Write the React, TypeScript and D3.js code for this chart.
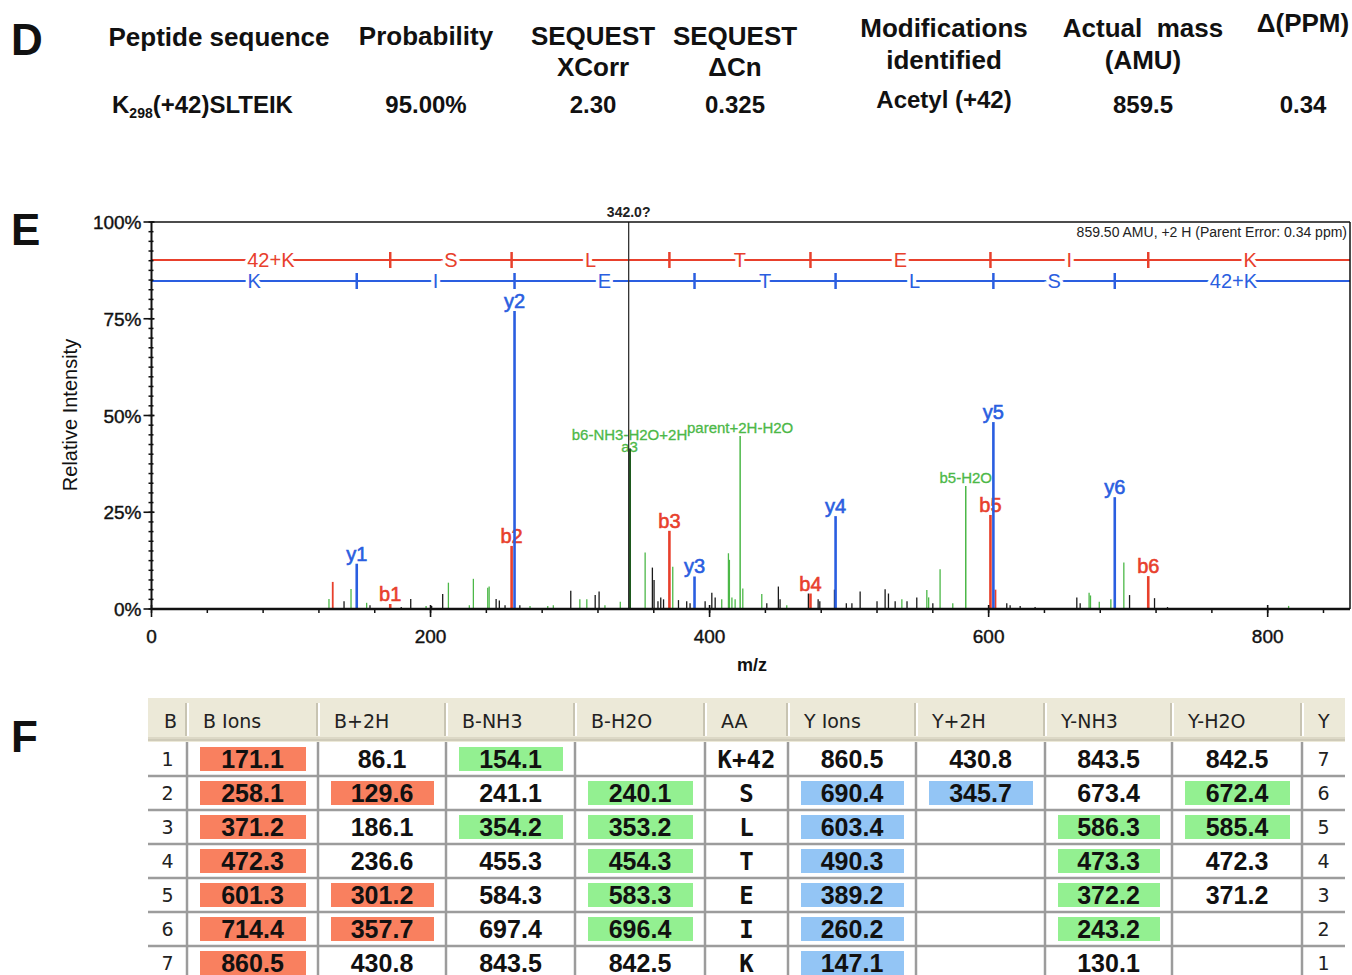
import React from "react";
import * as d3 from "d3";

const W = 1352;
const H = 975;

// ---------- Panel D data ----------
const dHeaderLines: string[][] = [
  ["Peptide sequence"],
  ["Probability"],
  ["SEQUEST", "XCorr"],
  ["SEQUEST", "ΔCn"],
  ["Modifications", "identified"],
  ["Actual  mass", "(AMU)"],
  ["Δ(PPM)"],
];
const peptideResidue = "K";
const peptideSite = "298";
const peptideRest = "(+42)SLTEIK";
const dValues = ["", "95.00%", "2.30", "0.325", "Acetyl (+42)", "859.5", "0.34"];

// ---------- Panel E data ----------
const bIonLabels = ["b1", "b2", "b3", "b4", "b5", "b6"];
const bIonMz = [171.1, 258.1, 371.2, 472.3, 601.3, 714.4];
const bIonIntensity = [1.3, 16.3, 20.2, 4.0, 24.3, 8.5];

const yIonLabels = ["y1", "y2", "y3", "y4", "y5", "y6"];
const yIonMz = [147.1, 260.2, 389.2, 490.3, 603.4, 690.4];
const yIonIntensity = [11.7, 77.0, 8.4, 24.0, 48.3, 28.9];

const lossLabels = ["parent+2H-H2O", "b5-H2O"];
const lossMz = [421.9, 583.6];
const lossIntensity = [44.7, 31.8];

const a3Labels = ["b6-NH3-H2O+2H", "a3"];
const a3Mz = 342.6;
const a3Intensity = 41.5;

const markerMz = 342.0;
const markerLabel = "342.0?";
const parentMz = 860.5;
const parentNote = "859.50 AMU, +2 H (Parent Error: 0.34 ppm)";

const bLadderResidues = ["42+K", "S", "L", "T", "E", "I", "K"];
const yLadderResidues = ["K", "I", "E", "T", "L", "S", "42+K"];

const greenPeakMz = [127.2, 143, 154.2, 196.8, 212.8, 227.8, 230.7, 241, 242, 271.3, 284, 288, 307, 312, 325, 336, 353.8, 373.6, 408.7, 413.5, 414.2, 416, 418.3, 423.8, 437.4, 455.3, 537.8, 555.7, 557, 565.2, 574.3, 672, 673, 679.3, 687.6, 696.9, 815];
const greenPeakIntensity = [2.6, 5.2, 1.6, 0.8, 6.8, 1.0, 7.8, 5.5, 5.8, 0.8, 0.8, 1.0, 2.5, 2.5, 1.0, 1.9, 14.6, 10.9, 2.5, 14.4, 12.7, 3.0, 2.5, 5.3, 3.9, 1.0, 2.5, 4.9, 3.0, 10.3, 1.5, 4.2, 3.5, 1.9, 2.5, 12.0, 0.8];

const blackPeakMz = [138, 156.6, 179, 185.8, 200.8, 208.7, 247, 249.3, 253.4, 264, 300.5, 318, 320.8, 359, 360.2, 363, 365, 367, 377.7, 383.6, 386, 396.8, 401.6, 404, 441, 449.3, 450.5, 470.8, 477.8, 479, 489.5, 498, 502, 507.9, 520, 525.8, 528.2, 533, 541.5, 548.5, 560, 613, 615.4, 622.6, 633.3, 663.2, 665.6, 701, 718.9, 728.2];
const blackPeakIntensity = [2.0, 1.0, 0.5, 2.6, 0.8, 3.9, 2.6, 2.2, 1.0, 1.0, 4.7, 3.6, 4.5, 10.7, 7.5, 2.0, 3.0, 2.5, 2.3, 2.0, 1.5, 2.0, 4.2, 3.0, 1.5, 5.8, 2.5, 4.0, 2.5, 2.0, 5.0, 1.5, 1.5, 4.5, 2.0, 5.1, 4.0, 2.0, 2.0, 3.0, 1.5, 1.5, 1.0, 0.8, 0.5, 3.0, 1.5, 3.6, 2.8, 0.5];

const redPeakMz = [129.9, 604.9];
const redPeakIntensity = [7.0, 5.0];

const yTickValues = [0, 25, 50, 75, 100];
const xTickValues = [0, 200, 400, 600, 800];

// ---------- Panel F data ----------
const tableHeaders = ["B", "B Ions", "B+2H", "B-NH3", "B-H2O", "AA", "Y Ions", "Y+2H", "Y-NH3", "Y-H2O", "Y"];
const bIndex = ["1", "2", "3", "4", "5", "6", "7"];
const bIons = ["171.1", "258.1", "371.2", "472.3", "601.3", "714.4", "860.5"];
const b2H = ["86.1", "129.6", "186.1", "236.6", "301.2", "357.7", "430.8"];
const bNH3 = ["154.1", "241.1", "354.2", "455.3", "584.3", "697.4", "843.5"];
const bH2O = ["", "240.1", "353.2", "454.3", "583.3", "696.4", "842.5"];
const aaSeq = ["K+42", "S", "L", "T", "E", "I", "K"];
const yIons = ["860.5", "690.4", "603.4", "490.3", "389.2", "260.2", "147.1"];
const y2H = ["430.8", "345.7", "", "", "", "", ""];
const yNH3 = ["843.5", "673.4", "586.3", "473.3", "372.2", "243.2", "130.1"];
const yH2O = ["842.5", "672.4", "585.4", "472.3", "371.2", "", ""];
const yIndex = ["7", "6", "5", "4", "3", "2", "1"];

const bIonsHit = [0, 1, 2, 3, 4, 5, 6];
const b2HHit = [1, 4, 5];
const bNH3Hit = [0, 2];
const bH2OHit = [1, 2, 3, 4, 5];
const yIonsHit = [1, 2, 3, 4, 5, 6];
const y2HHit = [1];
const yNH3Hit = [2, 3, 4, 5];
const yH2OHit = [1, 2];

// ---------- styles ----------
const RED = "#e8402c";
const BLUE = "#2a5ee0";
const GREEN = "#4cb848";
const DKGREEN = "#1d5a1d";
const BLACK = "#1a1a1a";
const SALMON = "#f9805f";
const LBLUE = "#93c5f5";
const LGREEN = "#93f091";
const SANS = "'Liberation Sans', Arial, sans-serif";

function PanelD() {
  const centers = [219, 426, 593, 735, 944, 1143, 1303];
  const headerBaselines: number[][] = [[46], [45], [45, 76], [45, 76], [37, 69], [37, 69], [32]];
  return (
    <g fontFamily={SANS} fontWeight="bold" fill="#111">
      <text x={11} y={55} fontSize={44}>D</text>
      {dHeaderLines.map((lines, i) =>
        lines.map((ln, j) => (
          <text key={i + "-" + j} x={centers[i]} y={headerBaselines[i][j]} fontSize={26} textAnchor="middle" style={{ whiteSpace: "pre" }}>
            {ln}
          </text>
        ))
      )}
      <text x={112} y={113} fontSize={24}>
        {peptideResidue}
        <tspan fontSize={14} dy={5}>{peptideSite}</tspan>
        <tspan dy={-5}>{peptideRest}</tspan>
      </text>
      {dValues.map((v, i) =>
        i === 0 ? null : (
          <text key={i} x={centers[i]} y={i === 4 ? 108 : 113} fontSize={24} textAnchor="middle">{v}</text>
        )
      )}
    </g>
  );
}

function PanelE() {
  const x = d3.scaleLinear().domain([0, 859]).range([151.5, 1350]);
  const y = d3.scaleLinear().domain([0, 100]).range([609, 222]);
  const bBounds = [0, ...bIonMz, parentMz];
  const yBounds = [0, ...yIonMz, parentMz];
  const redY = 260;
  const blueY = 281;
  const minorX = d3.range(0, 860, 40);
  const minorY = d3.range(0, 100.01, 2.5);

  const peakLine = (mz: number, inten: number, color: string, w: number, key: string) => (
    <line key={key} x1={x(mz)} x2={x(mz)} y1={y(0)} y2={y(inten)} stroke={color} strokeWidth={w} />
  );

  return (
    <g fontFamily={SANS}>
      <text x={11} y={245} fontSize={44} fontWeight="bold" fill="#111">E</text>

      {/* ladders */}
      <line x1={x(0)} x2={1350} y1={redY} y2={redY} stroke={RED} strokeWidth={2} />
      <line x1={x(0)} x2={1350} y1={blueY} y2={blueY} stroke={BLUE} strokeWidth={2} />
      {bIonMz.map((m, i) => (
        <line key={"bt" + i} x1={x(m)} x2={x(m)} y1={redY - 8} y2={redY + 8} stroke={RED} strokeWidth={2.5} />
      ))}
      {yIonMz.map((m, i) => (
        <line key={"yt" + i} x1={x(m)} x2={x(m)} y1={blueY - 8} y2={blueY + 8} stroke={BLUE} strokeWidth={2.5} />
      ))}
      {bLadderResidues.map((r, i) => (
        <text key={"br" + i} x={x((bBounds[i] + bBounds[i + 1]) / 2)} y={redY + 7} fontSize={20} textAnchor="middle" fill={RED}
          stroke="#fff" strokeWidth={7} paintOrder="stroke">{r}</text>
      ))}
      {yLadderResidues.map((r, i) => (
        <text key={"yr" + i} x={x((yBounds[i] + yBounds[i + 1]) / 2)} y={blueY + 7} fontSize={20} textAnchor="middle" fill={BLUE}
          stroke="#fff" strokeWidth={7} paintOrder="stroke">{r}</text>
      ))}

      <text x={1347} y={237} fontSize={14} textAnchor="end" fill="#222">{parentNote}</text>

      {/* peak labels */}
      {bIonLabels.map((l, i) => (
        <text key={"bl" + i} x={x(bIonMz[i])} y={y(bIonIntensity[i]) - 3} fontSize={20} textAnchor="middle" fill={RED}
          stroke={RED} strokeWidth={0.6}>{l}</text>
      ))}
      {yIonLabels.map((l, i) => (
        <text key={"yl" + i} x={x(yIonMz[i])} y={y(yIonIntensity[i]) - 3} fontSize={20} textAnchor="middle" fill={BLUE}
          stroke={BLUE} strokeWidth={0.6}>{l}</text>
      ))}
      {lossLabels.map((l, i) => (
        <text key={"ll" + i} x={x(lossMz[i])} y={y(lossIntensity[i]) - 3} fontSize={15} textAnchor="middle" fill={GREEN}
          stroke={GREEN} strokeWidth={0.3}>{l}</text>
      ))}
      <text x={x(a3Mz)} y={y(a3Intensity) - 8} fontSize={15} textAnchor="middle" fill={GREEN} stroke={GREEN} strokeWidth={0.3}>{a3Labels[0]}</text>
      <text x={x(a3Mz)} y={y(a3Intensity) + 4} fontSize={15} textAnchor="middle" fill={GREEN} stroke={GREEN} strokeWidth={0.3}>{a3Labels[1]}</text>

      {/* peaks */}
      {greenPeakMz.map((m, i) => peakLine(m, greenPeakIntensity[i], GREEN, 1.3, "g" + i))}
      {blackPeakMz.map((m, i) => peakLine(m, blackPeakIntensity[i], BLACK, 1.3, "k" + i))}
      {redPeakMz.map((m, i) => peakLine(m, redPeakIntensity[i], RED, 1.8, "r" + i))}
      {lossMz.map((m, i) => peakLine(m, lossIntensity[i], GREEN, 1.5, "l" + i))}
      {peakLine(a3Mz, a3Intensity, DKGREEN, 3, "a3")}
      {bIonMz.map((m, i) => peakLine(m, bIonIntensity[i], RED, 2.6, "b" + i))}
      {yIonMz.map((m, i) => peakLine(m, yIonIntensity[i], BLUE, 2.6, "y" + i))}

      {/* marker */}
      <line x1={x(markerMz)} x2={x(markerMz)} y1={y(100)} y2={y(0)} stroke="#333" strokeWidth={1.3} />
      <text x={x(markerMz)} y={217} fontSize={14} fontWeight="bold" textAnchor="middle" fill="#222">{markerLabel}</text>

      {/* frame */}
      <line x1={x(0)} x2={1350} y1={y(100)} y2={y(100)} stroke="#111" strokeWidth={1.5} />
      <line x1={1350} x2={1350} y1={y(100)} y2={y(0)} stroke="#111" strokeWidth={1.5} />
      <line x1={x(0)} x2={x(0)} y1={y(100)} y2={y(0)} stroke="#111" strokeWidth={2} />
      <line x1={x(0)} x2={1350} y1={y(0)} y2={y(0)} stroke="#111" strokeWidth={2.5} />

      {minorY.map((v, i) => (
        <line key={"my" + i} x1={x(0) - 3} x2={x(0) + 2} y1={y(v)} y2={y(v)} stroke="#111" strokeWidth={1.5} />
      ))}
      {yTickValues.map((v) => (
        <g key={"Y" + v}>
          <line x1={x(0) - 8} x2={x(0) + 3} y1={y(v)} y2={y(v)} stroke="#111" strokeWidth={1.6} />
          <text x={x(0) - 10} y={y(v) + 7} fontSize={19} textAnchor="end" fill="#111" stroke="#111" strokeWidth={0.4}>{v + "%"}</text>
        </g>
      ))}
      {minorX.map((v, i) => (
        <line key={"mx" + i} x1={x(v)} x2={x(v)} y1={y(0)} y2={y(0) + 4} stroke="#111" strokeWidth={1.5} />
      ))}
      {xTickValues.map((v) => (
        <g key={"X" + v}>
          <line x1={x(v)} x2={x(v)} y1={y(0) - 4} y2={y(0) + 8} stroke="#111" strokeWidth={1.6} />
          <text x={x(v)} y={643} fontSize={19} textAnchor="middle" fill="#111" stroke="#111" strokeWidth={0.4}>{v}</text>
        </g>
      ))}
      <text x={752} y={671} fontSize={18} fontWeight="bold" textAnchor="middle" fill="#111">m/z</text>
      <text transform="translate(77,415) rotate(-90)" fontSize={20} textAnchor="middle" fill="#111">Relative Intensity</text>
    </g>
  );
}

function PanelF() {
  const colX = [148, 187, 318, 446, 575, 705, 788, 916, 1045, 1172, 1302, 1345];
  const headTop = 698;
  const headBot = 742;
  const rowH = 34;
  const rowY = (i: number) => headBot + i * rowH;
  const columns: { vals: string[]; hits: number[]; fill: string; kind: string }[] = [
    { vals: bIndex, hits: [], fill: "", kind: "idx" },
    { vals: bIons, hits: bIonsHit, fill: SALMON, kind: "val" },
    { vals: b2H, hits: b2HHit, fill: SALMON, kind: "val" },
    { vals: bNH3, hits: bNH3Hit, fill: LGREEN, kind: "val" },
    { vals: bH2O, hits: bH2OHit, fill: LGREEN, kind: "val" },
    { vals: aaSeq, hits: [], fill: "", kind: "aa" },
    { vals: yIons, hits: yIonsHit, fill: LBLUE, kind: "val" },
    { vals: y2H, hits: y2HHit, fill: LBLUE, kind: "val" },
    { vals: yNH3, hits: yNH3Hit, fill: LGREEN, kind: "val" },
    { vals: yH2O, hits: yH2OHit, fill: LGREEN, kind: "val" },
    { vals: yIndex, hits: [], fill: "", kind: "idx" },
  ];
  return (
    <g>
      <text x={11} y={752} fontSize={44} fontWeight="bold" fontFamily={SANS} fill="#111">F</text>
      {/* header */}
      <rect x={colX[0]} y={headTop} width={colX[11] - colX[0]} height={headBot - headTop} fill="#ECE9D8" />
      <line x1={colX[0]} x2={colX[11]} y1={headBot - 4} y2={headBot - 4} stroke="#DCD8C6" strokeWidth={2} />
      <line x1={colX[0]} x2={colX[11]} y1={headBot - 2} y2={headBot - 2} stroke="#CFCBB9" strokeWidth={2} />
      {colX.slice(1, 11).map((cx, i) => (
        <g key={"hs" + i}>
          <line x1={cx - 1} x2={cx - 1} y1={headTop + 5} y2={headBot - 6} stroke="#C8C4B2" strokeWidth={2} />
          <line x1={cx + 1} x2={cx + 1} y1={headTop + 5} y2={headBot - 6} stroke="#FFFFFF" strokeWidth={2} />
        </g>
      ))}
      {tableHeaders.map((h, i) => (
        <text key={"h" + i} x={colX[i] + 16} y={728} fontSize={19} fontFamily="'DejaVu Sans', Tahoma, sans-serif" fill="#222">{h}</text>
      ))}
      {/* body */}
      <rect x={colX[0]} y={headBot} width={colX[11] - colX[0]} height={H - headBot} fill="#fff" />
      {d3.range(1, 7).map((i) => (
        <line key={"hl" + i} x1={colX[0]} x2={colX[11]} y1={rowY(i)} y2={rowY(i)} stroke="#9c9c9c" strokeWidth={2.5} />
      ))}
      {colX.slice(1, 11).map((cx, i) => (
        <line key={"vl" + i} x1={cx} x2={cx} y1={headBot} y2={H} stroke="#9c9c9c" strokeWidth={2.5} />
      ))}
      {columns.map((col, ci) =>
        col.vals.map((v, ri) => {
          const x0 = colX[ci];
          const x1 = colX[ci + 1];
          const cx = (x0 + x1) / 2;
          const cy = rowY(ri) + rowH / 2;
          const hit = col.hits.indexOf(ri) >= 0;
          if (col.kind === "idx") {
            return (
              <text key={ci + "-" + ri} x={cx} y={cy + 7} fontSize={19} textAnchor="middle" fontFamily="'DejaVu Sans', Tahoma, sans-serif" fill="#222">{v}</text>
            );
          }
          if (col.kind === "aa") {
            return (
              <text key={ci + "-" + ri} x={cx} y={cy + 9} fontSize={24} fontWeight="bold" textAnchor="middle" fontFamily="'DejaVu Sans Mono', monospace" fill="#111">{v}</text>
            );
          }
          return (
            <g key={ci + "-" + ri}>
              {hit && <rect x={x0 + 13} y={rowY(ri) + 5} width={x1 - x0 - 25} height={rowH - 10} fill={col.fill} />}
              <text x={cx} y={cy + 9} fontSize={25} fontWeight="bold" textAnchor="middle" fontFamily={SANS} fill="#111">{v}</text>
            </g>
          );
        })
      )}
    </g>
  );
}

export default function App() {
  return (
    <div style={{ position: "absolute", left: 0, top: 0 }}>
      <svg width={W} height={H} viewBox={`0 0 ${W} ${H}`} style={{ display: "block", background: "#fff" }}>
        <PanelD />
        <PanelE />
        <PanelF />
      </svg>
    </div>
  );
}
